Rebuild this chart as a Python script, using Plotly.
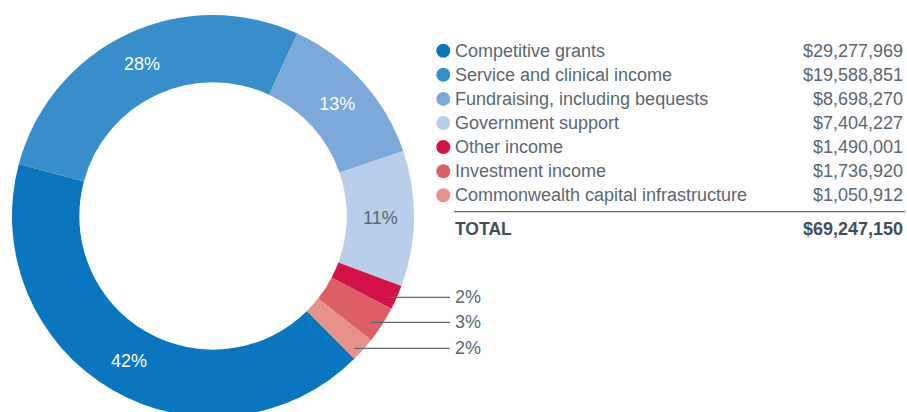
import plotly.graph_objects as go

# ---- data ----
categories = ["Competitive grants", "Service and clinical income",
              "Fundraising, including bequests", "Government support",
              "Other income", "Investment income",
              "Commonwealth capital infrastructure"]
amounts = ["$29,277,969", "$19,588,851", "$8,698,270", "$7,404,227",
           "$1,490,001", "$1,736,920", "$1,050,912"]
percents = [42, 28, 13, 11, 2, 3, 2]
total_label = "TOTAL"
total_amount = "$69,247,150"
colors = ["#0A76BF", "#378ECB", "#7BA9DA", "#B8CFEC",
          "#D31347", "#DD5F65", "#E8908B"]

W, H = 907, 420
TOP, BOT = 15, 3
FONT = "Liberation Sans"
GREY = "#5A6670"
DARK = "#3F4E5C"

inside = [p >= 5 for p in percents]
text = [f"{p}%" if ok else "" for p, ok in zip(percents, inside)]
text_colors = ["#FFFFFF", "#FFFFFF", "#FFFFFF", GREY, "#FFFFFF", "#FFFFFF", "#FFFFFF"]

fig = go.Figure()
fig.add_trace(go.Pie(
    labels=categories, values=percents, text=text, textinfo="text",
    textposition=["inside" if ok else "none" for ok in inside],
    insidetextorientation="horizontal",
    insidetextfont=dict(family=FONT, size=18, color=text_colors),
    marker=dict(colors=colors, line=dict(width=0)),
    hole=0.665, sort=False, direction="clockwise", rotation=135.3,
    domain=dict(x=[12 / W, 414 / W], y=[0, 1]),
    showlegend=False, hoverinfo="label+value",
))

# legend markers on a hidden pixel-like axis
row_y = [50.7 + 24.1 * i for i in range(len(categories))]
fig.add_trace(go.Scatter(
    x=[443.3] * len(categories), y=row_y, mode="markers",
    marker=dict(size=14, color=colors, line=dict(width=0)),
    showlegend=False, hoverinfo="skip", cliponaxis=False,
))

annotations = []
for lab, amt, y in zip(categories, amounts, row_y):
    annotations.append(dict(x=453, y=y, xref="x", yref="y", text=lab,
                            showarrow=False, xanchor="left", yanchor="middle",
                            font=dict(family=FONT, size=18, color=GREY)))
    annotations.append(dict(x=905, y=y, xref="x", yref="y", text=amt,
                            showarrow=False, xanchor="right", yanchor="middle",
                            font=dict(family=FONT, size=18, color=GREY)))
total_y = 229.3
annotations.append(dict(x=453, y=total_y, xref="x", yref="y", text=f"<b>{total_label}</b>",
                        showarrow=False, xanchor="left", yanchor="middle",
                        font=dict(family=FONT, size=17.5, color=DARK)))
annotations.append(dict(x=905, y=total_y, xref="x", yref="y", text=f"<b>{total_amount}</b>",
                        showarrow=False, xanchor="right", yanchor="middle",
                        font=dict(family=FONT, size=18, color=DARK)))

# outside labels for small slices
small_idx = [i for i, ok in enumerate(inside) if not ok]
leader_start = [(386.7, 297.3), (371.0, 322.3), (354.3, 348.3)]
shapes = [dict(type="line", xref="x", yref="y", x0=454, x1=905, y0=211.7, y1=211.7,
               line=dict(color=GREY, width=1.2))]
for i, (sx, sy) in zip(small_idx, leader_start):
    shapes.append(dict(type="line", xref="x", yref="y", x0=sx, x1=450, y0=sy, y1=sy,
                       line=dict(color=GREY, width=1.2)))
    annotations.append(dict(x=453, y=sy, xref="x", yref="y", text=f"{percents[i]}%",
                            showarrow=False, xanchor="left", yanchor="middle",
                            font=dict(family=FONT, size=18, color=GREY)))

fig.update_layout(
    width=W, height=H, autosize=False,
    margin=dict(l=0, r=0, t=TOP, b=BOT, pad=0),
    paper_bgcolor="white", plot_bgcolor="rgba(0,0,0,0)",
    xaxis=dict(range=[0, W], visible=False, fixedrange=True),
    yaxis=dict(range=[H - BOT, TOP], visible=False, fixedrange=True),
    annotations=annotations, shapes=shapes,
)

fig.write_html("out.html", config={"displayModeBar": False},
               post_script="document.body.style.margin='0';document.body.style.overflow='hidden';")
